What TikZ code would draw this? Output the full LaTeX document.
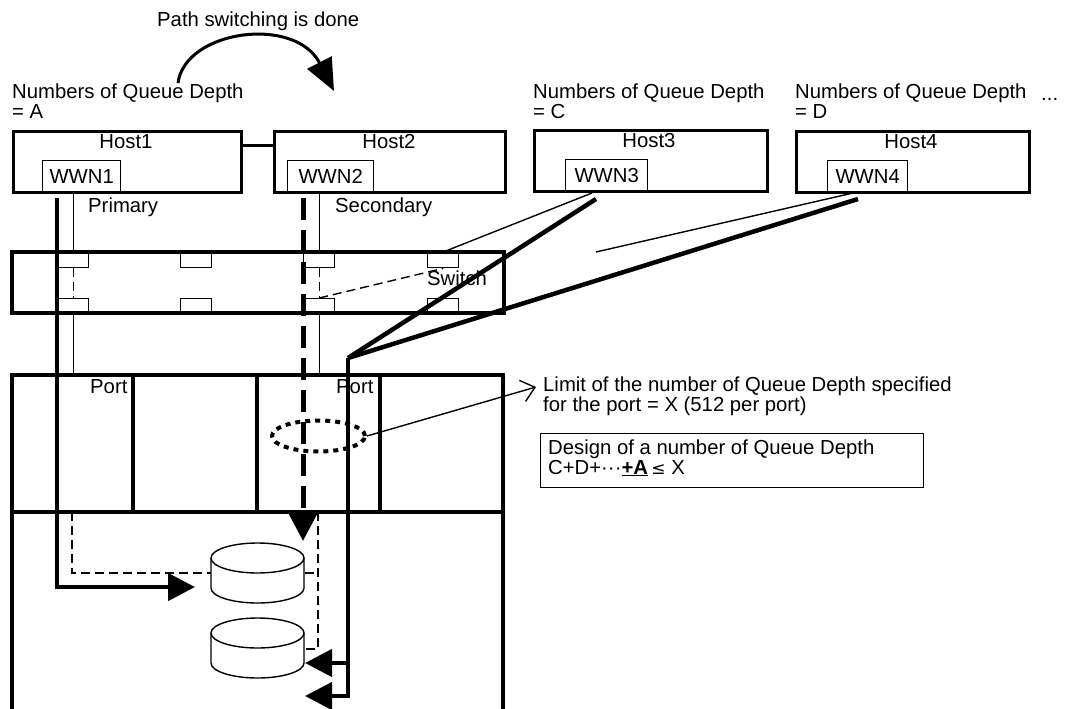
\documentclass[tikz,border=0pt]{standalone}
\usepackage{fontspec}
\setmainfont{Liberation Sans}
\newfontfamily\symfont{DejaVu Sans}
\usetikzlibrary{arrows.meta,shapes.geometric,positioning}

\tikzset{
  txt/.style={inner sep=0pt, font=\fontsize{20.3}{18}\selectfont, anchor=base west},
  hostbox/.style={draw, line width=3.2pt, anchor=north west, minimum height=61pt, inner sep=0pt},
  wwnbox/.style={draw, line width=1.4pt, anchor=north west, minimum height=32pt, inner sep=0pt, font=\fontsize{20.3}{18}\selectfont},
  portsq/.style={draw, line width=1.4pt, anchor=north west, minimum width=31pt, minimum height=15pt, inner sep=0pt},
  sottile/.style={line width=1.4pt},
  tratteggio/.style={line width=1.4pt, dash pattern=on 9pt off 5pt},
  spesso/.style={line width=4.5pt},
  punta/.style={-{Triangle[length=27pt,width=27pt]}},
}

\begin{document}
\begin{tikzpicture}[x=1pt,y=-1pt]
  \useasboundingbox (0,0) rectangle (1065,709);

  % Testi
  \node[txt] (titolo) at (157,27) {Path switching is done};
  \node[txt, align=left] (qdA) at (12,118) {Numbers of Queue Depth\\= A};
  \node[txt, align=left] (qdC) at (533,118) {Numbers of Queue Depth\\= C};
  \node[txt, align=left] (qdD) at (795,118) {Numbers of Queue Depth\\= D};
  \node[txt] (altri) at (1041,100) {...};

  % Host
  \node[hostbox, minimum width=228pt] (host1) at (12,130) {};
  \node[hostbox, minimum width=231pt] (host2) at (273,130) {};
  \node[hostbox, minimum width=233pt] (host3) at (533,129) {};
  \node[hostbox, minimum width=233pt] (host4) at (795,130) {};
  \node[txt, anchor=base] (h1lbl) at (126,148) {Host1};
  \node[txt, anchor=base] (h2lbl) at (389,148) {Host2};
  \node[txt, anchor=base] (h3lbl) at (649,147) {Host3};
  \node[txt, anchor=base] (h4lbl) at (911,148) {Host4};
  \node[wwnbox, minimum width=78pt] (wwn1) at (42,160) {WWN1};
  \node[wwnbox, minimum width=86pt] (wwn2) at (287,160) {WWN2};
  \node[wwnbox, minimum width=82pt] (wwn3) at (565,159) {WWN3};
  \node[wwnbox, minimum width=80pt] (wwn4) at (827,160) {WWN4};
  \coordinate (hq) at (0,145);
  \draw[line width=3pt] (host1.east |- hq) -- (host2.west |- hq);

  \node[txt] (prim) at (88,212) {Primary};
  \node[txt] (sec) at (335,212) {Secondary};

  % Switch
  \draw[line width=3.2pt] (12,252) rectangle (504,313);
  \foreach \i/\x in {1/57,2/180,3/303,4/427} {
    \node[portsq] (sp\i t) at (\x,252) {};
    \node[portsq] (sp\i b) at (\x,298) {};
  }
  \node[txt] (swlbl) at (427,285) {Switch};

  % Porte e dischi
  \coordinate (porttop) at (0,375);
  \draw[line width=3.2pt] (12,709) -- (12,375) -- (503,375) -- (503,709);
  \draw[line width=3.2pt] (12,512) -- (503,512);
  \foreach \x in {133,257,380}
    \draw[line width=3.2pt] (\x,375) -- (\x,512);
  \node[txt] (port1) at (90,393) {Port};
  \node[txt] (port2) at (336,393) {Port};

  % Percorsi sottili
  \draw[sottile] (sp1t.north |- wwn1.south) -- (sp1t.north);
  \draw[tratteggio] (sp1t.south) -- (sp1b.north);
  \draw[sottile] (sp1b.south) -- (sp1b.south |- porttop);
  \draw[sottile] (sp3t.north |- wwn2.south) -- (sp3t.north);
  \draw[tratteggio] (sp3t.south) -- (sp3b.north);
  \draw[sottile] (sp3b.south) -- (sp3b.south |- porttop);
  \draw[tratteggio] (sp3b.north) -- (sp4t.south);
  \coordinate (w3a) at (592,193);
  \coordinate (w4a) at (853,193);
  \coordinate (libero) at (596,252);
  \draw[sottile] (w3a) -- (sp4t.north);
  \draw[sottile] (w4a) -- (libero);
  \draw[tratteggio] (72,512) |- (318,573);
  \draw[tratteggio] (318,512) |- (304,649);

  % Dischi
  \foreach \y in {558,633} {
    \fill[white] (211,\y) -- (211,\y+30) arc[start angle=180, end angle=0, x radius=46.5, y radius=15] -- (304,\y) -- cycle;
    \draw[sottile, fill=white] (257.5,\y) ellipse [x radius=46.5, y radius=15];
    \draw[sottile] (211,\y) -- (211,\y+30) arc[start angle=180, end angle=0, x radius=46.5, y radius=15] -- (304,\y);
  }

  % Limite della porta
  \node[draw, ellipse, line width=4pt, dash pattern=on 5pt off 5pt, minimum width=93pt, minimum height=31pt, inner sep=0pt] (limite) at (318.5,436) {};
  \node[txt, align=left] (limtxt) at (543,411) {Limit of the number of Queue Depth specified\\for the port = X (512 per port)};
  \coordinate (limpunta) at (536,387);
  \draw[sottile, -{Straight Barb[length=13pt,width=22pt]}] (limite.east) -- (limpunta);
  \node[draw, line width=1.4pt, anchor=north west, minimum width=383pt, minimum height=54pt] (progetto) at (540,433) {};
  \node[txt, align=left] (progtxt) at (548,474) {Design of a number of Queue Depth\\C+D+···\underline{\textbf{+A}}\,{\symfont\fontsize{17}{18}\selectfont ≤} X};

  % Percorsi spessi
  \coordinate (pA) at (57,198);
  \coordinate (pB) at (57,587);
  \coordinate (pC) at (195,587);
  \draw[spesso, punta] (pA) -- (pB) -- (pC);
  \coordinate (sA) at (303,198);
  \coordinate (sB) at (303,541);
  \draw[line width=5pt, dash pattern=on 22pt off 10pt, punta] (sA) -- (sB);
  \coordinate (w3b) at (596,199);
  \coordinate (w4b) at (858,199);
  \coordinate (angolo) at (348,358);
  \draw[spesso] (w3b) -- (angolo);
  \draw[spesso] (w4b) -- (angolo);
  \coordinate (d1) at (305,663);
  \coordinate (d2) at (305,696);
  \draw[spesso, punta] (angolo) |- (d2);
  \draw[spesso, punta] (348,663) -- (d1);

  % Cambio percorso
  \coordinate (cA) at (178,83);
  \coordinate (cB) at (334,91);
  \draw[line width=3pt, -{Triangle[length=32pt,width=27pt]}] (cA) .. controls (185,30) and (295,15) .. (cB);
\end{tikzpicture}
\end{document}
